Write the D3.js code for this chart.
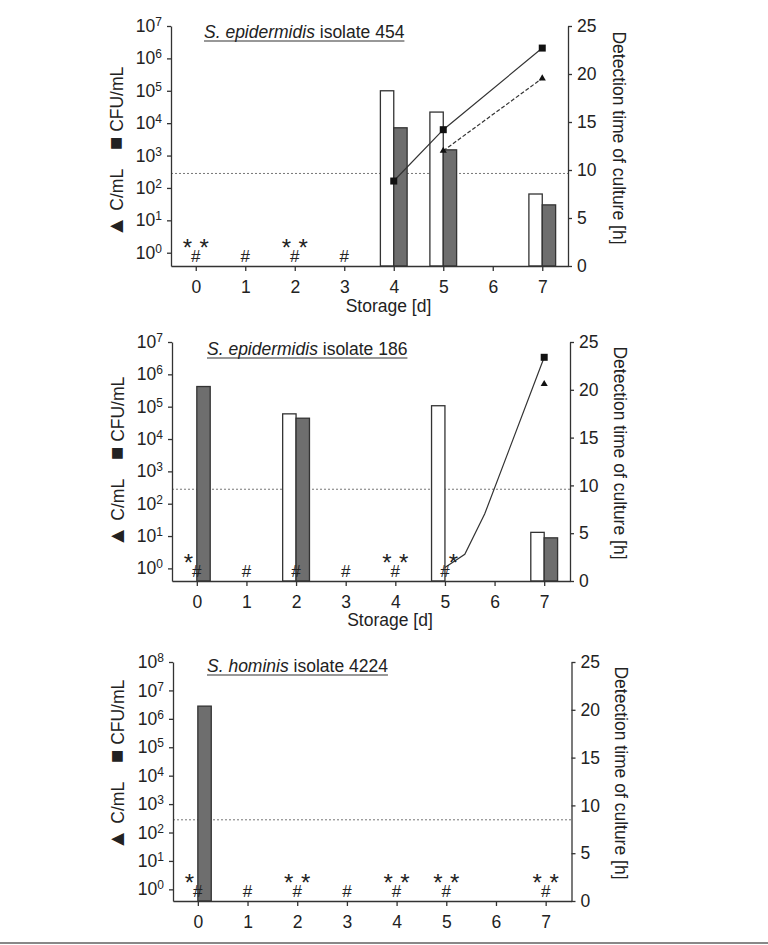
<!DOCTYPE html>
<html>
<head>
<meta charset="utf-8">
<script src="https://cdn.jsdelivr.net/npm/d3@7"></script>
<style>
  body { margin: 0; background: #fff; }
  svg text { font-family: "Liberation Sans", Arial, sans-serif; fill: #222; }
</style>
</head>
<body>
<script>
// days on the x axis
var days = [0, 1, 2, 3, 4, 5, 6, 7];
var leftTicks7 = [1, 10, 100, 1e3, 1e4, 1e5, 1e6, 1e7];
var leftTicks8 = [1, 10, 100, 1e3, 1e4, 1e5, 1e6, 1e7, 1e8];
var rightTicks = [0, 5, 10, 15, 20, 25];
var detectionLimit = 280;

// S. epidermidis 454
var white454 = [null, null, null, null, 1e5, 2.2e4, null, 65];
var grey454 = [null, null, null, null, 7.2e3, 1.5e3, null, 30];
var squareDays454 = [4, 5, 7];
var squareTime454 = [8.85, 14.2, 22.7];
var triDays454 = [5, 7];
var triTime454 = [12.0, 19.55];
var hash454 = [0, 1, 2, 3];
var starL454 = [0, 2];
var starR454 = [0, 2];

// S. epidermidis 186
var white186 = [null, null, 6.0e4, null, null, 1.07e5, null, 13];
var grey186 = [4.2e5, null, 4.4e4, null, null, null, null, 8.8];
var squareDays186 = [5, 5.4, 5.8, 7];
var squareTime186 = [1.4, 2.8, 7.0, 23.4];
var squareMark186 = [7];
var triDays186 = [7];
var triTime186 = [20.6];
var hash186 = [0, 1, 2, 3, 4, 5];
var starL186 = [0, 4];
var starR186 = [4, 5];

// S. hominis 4224
var white4224 = [null, null, null, null, null, null, null, null];
var grey4224 = [2.8e6, null, null, null, null, null, null, null];
var hash4224 = [0, 1, 2, 3, 4, 5, 7];
var starL4224 = [0, 2, 4, 5, 7];
var starR4224 = [2, 4, 5, 7];

var w = 768, h = 945;
var svg = d3.select("body").append("svg").attr("width", w).attr("height", h);

var panels = [
  { left: 171, right: 568, top: 26, bottom: 266, logMin: -0.41, logMax: 7, ticks: leftTicks7,
    italic: "S. epidermidis", rest: " isolate 454", titleX: 204, titleY: 38,
    storage: 312, leftLab: [123, 152], rightLab: [613, 138],
    white: white454, grey: grey454,
    sqDays: squareDays454, sqTime: squareTime454, sqMark: squareDays454,
    trDays: triDays454, trTime: triTime454, trDash: true,
    hash: hash454, starL: starL454, starR: starR454 },
  { left: 172, right: 570, top: 342, bottom: 581, logMin: -0.39, logMax: 7, ticks: leftTicks7,
    italic: "S. epidermidis", rest: " isolate 186", titleX: 207, titleY: 355,
    storage: 626, leftLab: [124, 462], rightLab: [614, 453],
    white: white186, grey: grey186,
    sqDays: squareDays186, sqTime: squareTime186, sqMark: squareMark186,
    trDays: triDays186, trTime: triTime186, trDash: false,
    hash: hash186, starL: starL186, starR: starR186 },
  { left: 173, right: 571.5, top: 662, bottom: 901, logMin: -0.41, logMax: 8, ticks: leftTicks8,
    italic: "S. hominis", rest: " isolate 4224", titleX: 207, titleY: 672,
    storage: null, leftLab: [124, 765], rightLab: [615, 773],
    white: white4224, grey: grey4224,
    sqDays: [], sqTime: [], sqMark: [],
    trDays: [], trTime: [], trDash: false,
    hash: hash4224, starL: starL4224, starR: starR4224 }
];

panels.forEach(drawPanel);

// grey rule at the bottom
svg.append("line").attr("x1", 0).attr("x2", w).attr("y1", 943).attr("y2", 943)
  .style("stroke", "#888").style("stroke-width", 2);

function drawPanel(p) {
  var g = svg.append("g");
  var x = d3.scaleLinear().domain([-0.5, 7.52]).range([p.left, p.right]);
  var y = d3.scaleLog().domain([Math.pow(10, p.logMin), Math.pow(10, p.logMax)]).range([p.bottom, p.top]);
  var yR = d3.scaleLinear().domain([0, 25]).range([p.bottom, p.top]);
  var bw = 0.27;

  // detection limit
  g.append("line")
    .attr("x1", p.left).attr("x2", p.right)
    .attr("y1", y(detectionLimit)).attr("y2", y(detectionLimit))
    .style("stroke", "#777").style("stroke-width", 1).style("stroke-dasharray", "2,2");

  // bars
  g.selectAll(".wbar")
    .data(days.filter(function (d) { return p.white[d] != null; }))
    .enter().append("rect")
    .attr("x", function (d) { return x(d - bw); })
    .attr("width", function (d) { return x(d) - x(d - bw); })
    .attr("y", function (d) { return y(p.white[d]); })
    .attr("height", function (d) { return p.bottom - y(p.white[d]); })
    .style("fill", "#fff").style("stroke", "#333").style("stroke-width", 1.3);

  g.selectAll(".gbar")
    .data(days.filter(function (d) { return p.grey[d] != null; }))
    .enter().append("rect")
    .attr("x", function (d) { return x(d); })
    .attr("width", function (d) { return x(d + bw) - x(d); })
    .attr("y", function (d) { return y(p.grey[d]); })
    .attr("height", function (d) { return p.bottom - y(p.grey[d]); })
    .style("fill", "#6e6e6e").style("stroke", "#333").style("stroke-width", 1.3);

  // axes
  var ax = g.append("g").attr("transform", "translate(0," + p.bottom + ")")
    .call(d3.axisBottom(x).tickValues(days).tickSize(5).tickSizeOuter(0).tickFormat(d3.format("d")));
  ax.selectAll(".tick text").attr("y", 26.5).attr("dy", 0);

  var al = g.append("g").attr("transform", "translate(" + p.left + ",0)")
    .call(d3.axisLeft(y).tickValues(p.ticks).tickSize(4).tickPadding(5).tickSizeOuter(0));
  al.selectAll(".tick text").each(function (d) {
    var t = d3.select(this).text("10");
    t.append("tspan").attr("dy", -6).style("font-size", "12px")
      .text(Math.round(Math.log10(d)));
  });

  var ar = g.append("g").attr("transform", "translate(" + p.right + ",0)")
    .call(d3.axisRight(yR).tickValues(rightTicks).tickSize(4).tickPadding(5).tickSizeOuter(0));

  [ax, al, ar].forEach(function (a) {
    a.selectAll("path, line").style("stroke", "#333").style("stroke-width", 1.3);
    a.selectAll("text").style("font-size", "17.5px")
      .style("font-family", "'Liberation Sans', Arial, sans-serif").attr("fill", "#222");
  });

  // detection time lines
  var line = d3.line().x(function (d) { return x(d[0]); }).y(function (d) { return yR(d[1]); });
  var sq = p.sqDays.map(function (d, i) { return [d, p.sqTime[i]]; });
  var tr = p.trDays.map(function (d, i) { return [d, p.trTime[i]]; });
  if (sq.length > 1) {
    g.append("path").attr("d", line(sq))
      .style("fill", "none").style("stroke", "#333").style("stroke-width", 1.2);
  }
  if (tr.length > 1) {
    g.append("path").attr("d", line(tr))
      .style("fill", "none").style("stroke", "#333").style("stroke-width", 1.2)
      .style("stroke-dasharray", p.trDash ? "4,2" : null);
  }
  g.selectAll(".sq")
    .data(sq.filter(function (d) { return p.sqMark.indexOf(d[0]) >= 0; }))
    .enter().append("rect")
    .attr("x", function (d) { return x(d[0]) - 3.5; })
    .attr("y", function (d) { return yR(d[1]) - 3.5; })
    .attr("width", 7).attr("height", 7)
    .style("fill", "#111");
  g.selectAll(".tri")
    .data(tr)
    .enter().append("path")
    .attr("transform", function (d) { return "translate(" + x(d[0]) + "," + yR(d[1]) + ")"; })
    .attr("d", d3.symbol().type(d3.symbolTriangle).size(22))
    .style("fill", "#111");

  // # and * markers
  g.selectAll(".hash").data(p.hash).enter().append("text")
    .attr("x", function (d) { return x(d); }).attr("y", p.bottom - 4.5)
    .attr("text-anchor", "middle").style("font-size", "17px").text("#");
  g.selectAll(".starL").data(p.starL).enter().append("text")
    .attr("x", function (d) { return x(d - 0.17); }).attr("y", p.bottom - 10)
    .attr("text-anchor", "middle").style("font-size", "24px").text("*");
  g.selectAll(".starR").data(p.starR).enter().append("text")
    .attr("x", function (d) { return x(d + 0.17); }).attr("y", p.bottom - 10)
    .attr("text-anchor", "middle").style("font-size", "24px").text("*");

  // title with underline
  var title = g.append("text").attr("x", p.titleX).attr("y", p.titleY)
    .style("font-size", "17.5px");
  title.append("tspan").style("font-style", "italic").text(p.italic);
  title.append("tspan").text(p.rest);
  var tl = title.node().getComputedTextLength();
  g.append("line").attr("x1", p.titleX).attr("x2", p.titleX + tl)
    .attr("y1", p.titleY + 3).attr("y2", p.titleY + 3)
    .style("stroke", "#333").style("stroke-width", 1.2);

  if (p.storage) {
    g.append("text").attr("x", (p.left + p.right) / 2 + 19).attr("y", p.storage)
      .attr("text-anchor", "middle").style("font-size", "17.5px").text("Storage [d]");
  }

  var ll = g.append("text")
    .attr("transform", "translate(" + p.leftLab[0] + "," + p.leftLab[1] + ") rotate(-90)")
    .attr("text-anchor", "middle").attr("xml:space", "preserve")
    .style("font-size", "17.5px").style("white-space", "pre");
  ll.append("tspan").style("font-size", "22px").text("\u25B2");
  ll.append("tspan").text(" C/mL    ");
  ll.append("tspan").style("font-size", "22px").text("\u25A0");
  ll.append("tspan").text(" CFU/mL");

  g.append("text")
    .attr("transform", "translate(" + p.rightLab[0] + "," + p.rightLab[1] + ") rotate(90)")
    .attr("text-anchor", "middle").style("font-size", "17.5px")
    .text("Detection time of culture [h]");
}
</script>
</body>
</html>
